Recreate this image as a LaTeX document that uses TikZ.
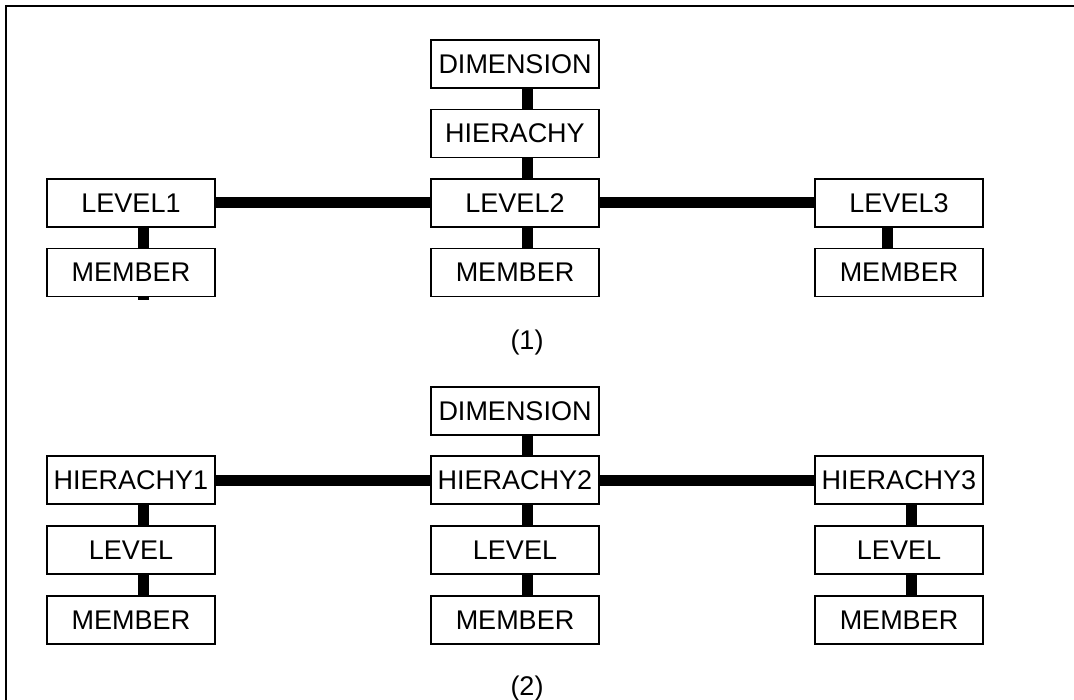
\documentclass[tikz,border=0pt]{standalone}
\usepackage{fontspec}
\setmainfont{Liberation Sans}
\begin{document}
\begin{tikzpicture}[x=1pt,y=-1pt,
  box/.style={draw, line width=1.8pt, fill=white, minimum width=168pt,
              minimum height=48pt, inner sep=0pt,
              font=\fontsize{27}{28}\selectfont},
  link/.style={line width=11pt},
  caption/.style={font=\fontsize{27}{28}\selectfont}]
\useasboundingbox (0,0) rectangle (1074,700);
% outer frame, running past the page on the right and bottom
\begin{scope}
  \clip (0,0) rectangle (1074,700);
  \draw[line width=2.6pt] (6,6) rectangle (1100,730);
\end{scope}

% ---------- (1): dimension -> hierarchy -> levels -> members ----------
\node[box] (d1)  at (515,64)    {DIMENSION};
\node[box] (h1)  at (515,133.5) {HIERACHY};
\node[box] (la)  at (131,203)   {LEVEL1};
\node[box] (lb)  at (515,203)   {LEVEL2};
\node[box] (lc)  at (899,203)   {LEVEL3};
\node[box] (ma)  at (131,272.5) {MEMBER};
\node[box] (mb)  at (515,272.5) {MEMBER};
\node[box] (mc)  at (899,272.5) {MEMBER};
\node[caption] (c1) at (527,343) {(1)};
\coordinate (stub) at (143,300);

\draw[link] ([xshift=12pt]d1.south) -- ([xshift=12pt]h1.north);
\draw[link] ([xshift=12pt]h1.south) -- ([xshift=12pt]lb.north);
\draw[link] (la.east) -- (lb.west);
\draw[link] (lb.east) -- (lc.west);
\draw[link] ([xshift=12pt]la.south) -- ([xshift=12pt]ma.north);
\draw[link] ([xshift=12pt]lb.south) -- ([xshift=12pt]mb.north);
\draw[link] ([xshift=-12pt]lc.south) -- ([xshift=-12pt]mc.north);
\draw[link] ([xshift=12pt]ma.south) -- (stub);

% ---------- (2): dimension -> hierarchies -> level -> member ----------
\node[box] (d2)  at (515,411) {DIMENSION};
\node[box] (ha)  at (131,480) {HIERACHY1};
\node[box] (hb)  at (515,480) {HIERACHY2};
\node[box] (hc)  at (899,480) {HIERACHY3};
\node[box] (va)  at (131,550) {LEVEL};
\node[box] (vb)  at (515,550) {LEVEL};
\node[box] (vc)  at (899,550) {LEVEL};
\node[box] (wa)  at (131,620) {MEMBER};
\node[box] (wb)  at (515,620) {MEMBER};
\node[box] (wc)  at (899,620) {MEMBER};
\node[caption] (c2) at (527,689) {(2)};

\draw[link] ([xshift=12pt]d2.south) -- ([xshift=12pt]hb.north);
\draw[link] (ha.east) -- (hb.west);
\draw[link] (hb.east) -- (hc.west);
\draw[link] ([xshift=12pt]ha.south) -- ([xshift=12pt]va.north);
\draw[link] ([xshift=12pt]hb.south) -- ([xshift=12pt]vb.north);
\draw[link] ([xshift=12pt]hc.south) -- ([xshift=12pt]vc.north);
\draw[link] ([xshift=12pt]va.south) -- ([xshift=12pt]wa.north);
\draw[link] ([xshift=12pt]vb.south) -- ([xshift=12pt]wb.north);
\draw[link] ([xshift=12pt]vc.south) -- ([xshift=12pt]wc.north);
\end{tikzpicture}
\end{document}
